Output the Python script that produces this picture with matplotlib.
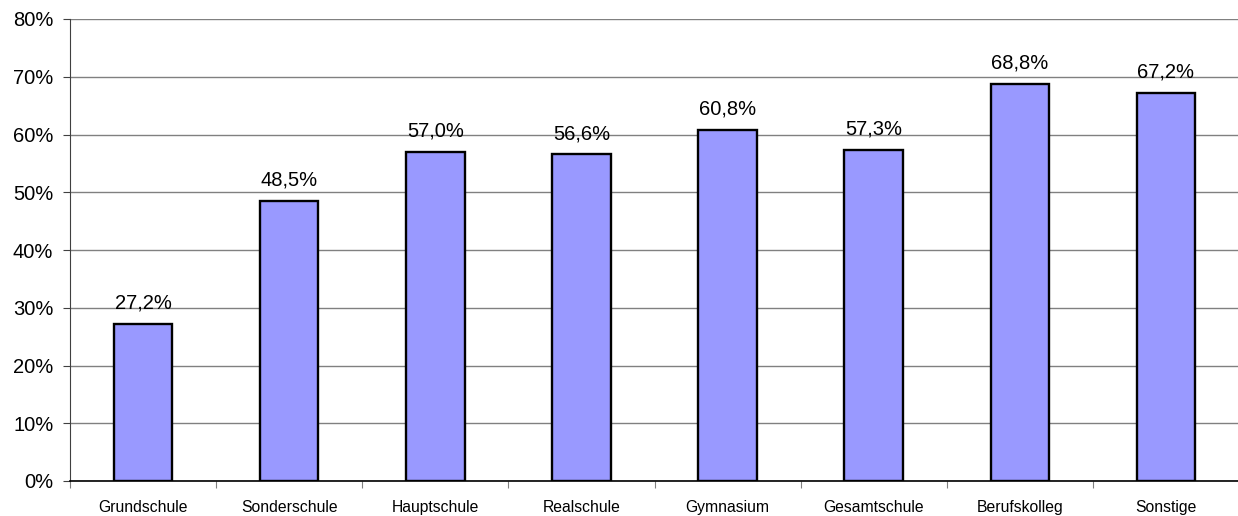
import matplotlib
matplotlib.use("Agg")
import matplotlib.pyplot as plt
import numpy as np

categories = ["Grundschule", "Sonderschule", "Hauptschule", "Realschule",
              "Gymnasium", "Gesamtschule", "Berufskolleg", "Sonstige"]
values = [27.2, 48.5, 57.0, 56.6, 60.8, 57.3, 68.8, 67.2]
value_labels = ["27,2%", "48,5%", "57,0%", "56,6%", "60,8%", "57,3%", "68,8%", "67,2%"]
yticks = [0, 10, 20, 30, 40, 50, 60, 70, 80]
ytick_labels = ["0%", "10%", "20%", "30%", "40%", "50%", "60%", "70%", "80%"]

plt.rcParams['font.family'] = ['Liberation Sans', 'DejaVu Sans']

W, H = 1238, 516
fig = plt.figure(figsize=(W / 100, H / 100), dpi=100)
ax = fig.add_axes([70 / W, (H - 481) / H, (1239 - 70) / W, (481 - 19) / H])

x = np.arange(len(categories))
ax.bar(x, values, width=0.4, color="#9999FF", edgecolor="black", linewidth=1.7, zorder=3)

for xi, v, lab in zip(x, values, value_labels):
    ax.annotate(lab, (xi, v), xytext=(0, 8), textcoords="offset points",
                ha="center", va="bottom", fontsize=14.5, color="black")

ax.set_xlim(-0.5, len(categories) - 0.5)
ax.set_ylim(0, 80)
ax.set_yticks(yticks)
ax.set_yticklabels(ytick_labels, fontsize=14.5)
ax.yaxis.grid(True, color="#808080", linewidth=1.0, zorder=0)
ax.set_axisbelow(True)

ax.set_xticks(np.arange(-0.5, len(categories), 1.0))
ax.set_xticklabels([])
ax.set_xticks(x, minor=True)
ax.set_xticklabels(categories, minor=True, fontsize=11.3)
ax.tick_params(axis="x", which="minor", length=0, pad=14)
ax.tick_params(axis="x", which="major", length=5, direction="out", color="#808080")
ax.tick_params(axis="y", length=5, direction="out", color="#404040", pad=7)

for s in ["top", "right"]:
    ax.spines[s].set_visible(False)
ax.spines["left"].set_color("#404040")
ax.spines["bottom"].set_color("black")
ax.spines["bottom"].set_linewidth(1.2)

fig.savefig("out.png", dpi=100)
